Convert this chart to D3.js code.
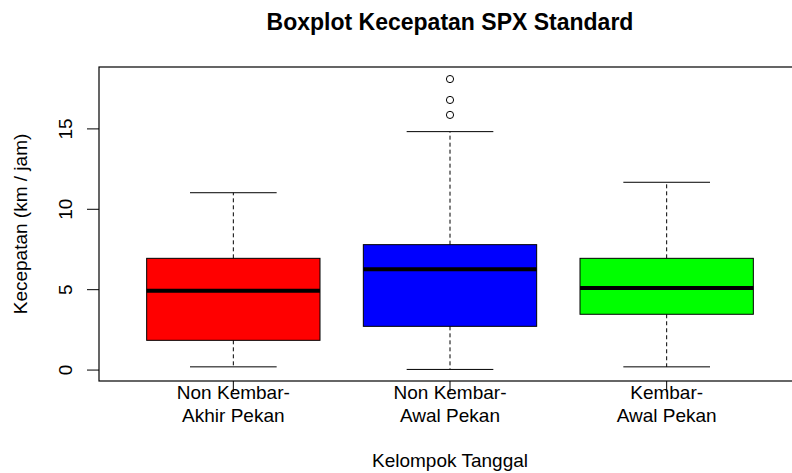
<!DOCTYPE html>
<html>
<head>
<meta charset="utf-8">
<script src="https://cdn.jsdelivr.net/npm/d3@7"></script>
<style>
  body { margin: 0; background: #fff; }
  text { font-family: "Liberation Sans", Arial, sans-serif; fill: #000; }
</style>
</head>
<body>
<div id="chart"></div>
<script>
// data
const groups = [["Non Kembar-", "Akhir Pekan"], ["Non Kembar-", "Awal Pekan"], ["Kembar-", "Awal Pekan"]];
const lowWhisker = [0.2, 0.04, 0.2];
const q1 = [1.85, 2.72, 3.47];
const median = [4.93, 6.27, 5.1];
const q3 = [6.95, 7.8, 6.95];
const highWhisker = [11.03, 14.83, 11.68];
const outliers = [[], [15.87, 16.8, 18.1], []];
const fills = ["#ff0000", "#0000ff", "#00ff00"];
const yTicks = [0, 5, 10, 15];

const width = 792, height = 473;
const svg = d3.select("#chart").append("svg")
  .attr("width", width)
  .attr("height", height);

// plot region (right edge runs off the canvas like the original)
const plotL = 99, plotR = 801, plotT = 67, plotB = 381;

const x = d3.scaleLinear().domain([0.38, 3.62]).range([plotL, plotR]);
const y = d3.scaleLinear().domain([-0.68, 18.85]).range([plotB, plotT]);

const boxHalf = x(1.4) - x(1);
const capHalf = x(1.2) - x(1);

const g = svg.append("g");

groups.forEach((name, i) => {
  const cx = x(i + 1);

  // whiskers
  g.append("line")
    .attr("x1", cx).attr("x2", cx)
    .attr("y1", y(q3[i])).attr("y2", y(highWhisker[i]))
    .attr("stroke", "#000").attr("stroke-width", 1).attr("stroke-dasharray", "4,3");
  g.append("line")
    .attr("x1", cx).attr("x2", cx)
    .attr("y1", y(q1[i])).attr("y2", y(lowWhisker[i]))
    .attr("stroke", "#000").attr("stroke-width", 1).attr("stroke-dasharray", "4,3");

  // caps
  [lowWhisker[i], highWhisker[i]].forEach(v => {
    g.append("line")
      .attr("x1", cx - capHalf).attr("x2", cx + capHalf)
      .attr("y1", y(v)).attr("y2", y(v))
      .attr("stroke", "#000").attr("stroke-width", 1);
  });

  // box
  g.append("rect")
    .attr("x", cx - boxHalf)
    .attr("y", y(q3[i]))
    .attr("width", boxHalf * 2)
    .attr("height", y(q1[i]) - y(q3[i]))
    .attr("fill", fills[i])
    .attr("stroke", "#000").attr("stroke-width", 1);

  // median
  g.append("line")
    .attr("x1", cx - boxHalf).attr("x2", cx + boxHalf)
    .attr("y1", y(median[i])).attr("y2", y(median[i]))
    .attr("stroke", "#000").attr("stroke-width", 4);

  // outliers
  g.selectAll(null).data(outliers[i]).enter().append("circle")
    .attr("cx", cx)
    .attr("cy", d => y(d))
    .attr("r", 3.6)
    .attr("fill", "none")
    .attr("stroke", "#000").attr("stroke-width", 1);
});

// frame
svg.append("rect")
  .attr("x", plotL).attr("y", plotT)
  .attr("width", plotR - plotL).attr("height", plotB - plotT)
  .attr("fill", "none").attr("stroke", "#000").attr("stroke-width", 1.2);

// y axis ticks
svg.selectAll(".ytick").data(yTicks).enter().append("line")
  .attr("x1", plotL - 12).attr("x2", plotL)
  .attr("y1", d => y(d)).attr("y2", d => y(d))
  .attr("stroke", "#000").attr("stroke-width", 1);

svg.selectAll(".ylab").data(yTicks).enter().append("text")
  .attr("transform", d => `translate(65,${y(d)}) rotate(-90)`)
  .attr("text-anchor", "middle")
  .attr("dominant-baseline", "central")
  .style("font-size", "19px")
  .text(d => d);

// x axis ticks and labels
svg.selectAll(".xtick").data(groups).enter().append("line")
  .attr("x1", (d, i) => x(i + 1)).attr("x2", (d, i) => x(i + 1))
  .attr("y1", plotB).attr("y2", plotB + 11)
  .attr("stroke", "#000").attr("stroke-width", 1);

groups.forEach((lines, i) => {
  lines.forEach((t, j) => {
    svg.append("text")
      .attr("x", x(i + 1))
      .attr("y", 392 + j * 23)
      .attr("text-anchor", "middle")
      .attr("dominant-baseline", "central")
      .style("font-size", "19px")
      .text(t);
  });
});

// titles
svg.append("text")
  .attr("x", (plotL + plotR) / 2).attr("y", 22)
  .attr("text-anchor", "middle").attr("dominant-baseline", "central")
  .style("font-size", "23px").style("font-weight", "bold")
  .text("Boxplot Kecepatan SPX Standard");

svg.append("text")
  .attr("x", (plotL + plotR) / 2).attr("y", 460)
  .attr("text-anchor", "middle").attr("dominant-baseline", "central")
  .style("font-size", "19px")
  .text("Kelompok Tanggal");

svg.append("text")
  .attr("transform", `translate(20,${(plotT + plotB) / 2}) rotate(-90)`)
  .attr("text-anchor", "middle").attr("dominant-baseline", "central")
  .style("font-size", "19px")
  .text("Kecepatan (km / jam)");
</script>
</body>
</html>
